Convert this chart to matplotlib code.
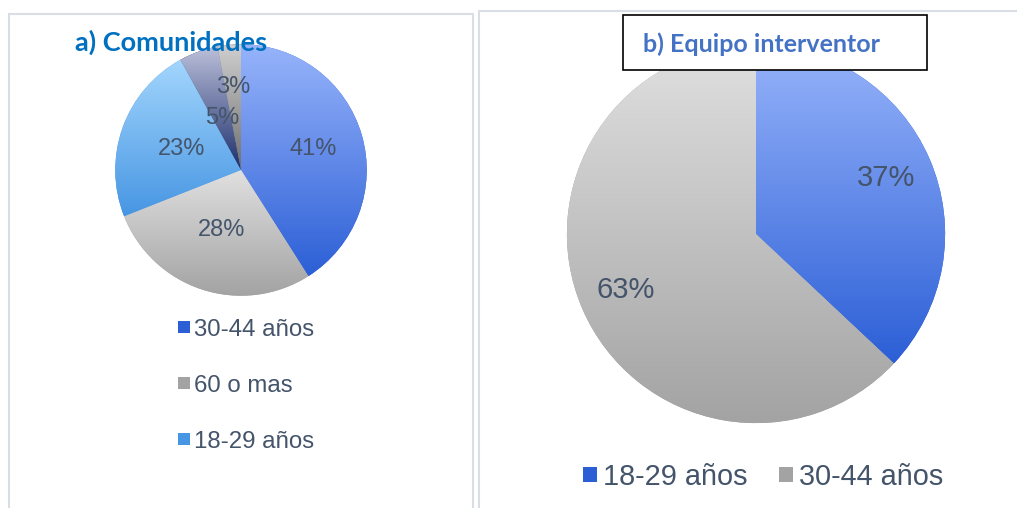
import numpy as np
import matplotlib.pyplot as plt
from matplotlib.patches import Rectangle, Patch
from matplotlib.colors import LinearSegmentedColormap

# a) Comunidades
com_labels = ['30-44 años', '60 o mas', '18-29 años', '45-59 años', 'Sin dato']
com_values = [41, 28, 23, 5, 3]
com_legend = ['30-44 años', '60 o mas', '18-29 años']

# b) Equipo interventor
eq_labels = ['18-29 años', '30-44 años']
eq_values = [37, 63]

blue = ('#97b4fb', '#2c5fd6')
gray = ('#e0e0e0', '#a3a3a3')
lblue = ('#a3d6fd', '#4796e3')
navy = ('#bcc0da', '#1c2f6c')
dgray = ('#cfcfcf', '#6e6e6e')
text_col = '#44546a'

plt.rcParams['font.family'] = ['Liberation Sans', 'DejaVu Sans']

fig = plt.figure(figsize=(10.17, 5.08), dpi=100)


def gradient_fill(ax, wedge, top, bottom):
    bb = wedge.get_path().get_extents()
    cmap = LinearSegmentedColormap.from_list('g', [top, bottom])
    grad = np.linspace(0, 1, 256).reshape(-1, 1)
    im = ax.imshow(grad, extent=[bb.x0, bb.x1, bb.y0, bb.y1], origin='upper',
                   cmap=cmap, aspect='auto', zorder=wedge.get_zorder() + 0.1)
    im.set_clip_path(wedge)


def draw_pie(ax, values, grads, dists, fs):
    wedges, _ = ax.pie(values, startangle=90, counterclock=False,
                       colors=[g[1] for g in grads], radius=1)
    for w, g in zip(wedges, grads):
        gradient_fill(ax, w, g[0], g[1])
    total = sum(values)
    cum = 0
    for v, d in zip(values, dists):
        mid = (cum + v / 2) / total * 2 * np.pi
        cum += v
        ax.text(d * np.sin(mid), d * np.cos(mid), f'{v}%', ha='center', va='center',
                fontsize=fs, color=text_col, zorder=5)
    ax.set_xlim(-1.01, 1.01)
    ax.set_ylim(-1.01, 1.01)
    ax.set_aspect('equal')
    ax.axis('off')
    return wedges


# panel borders
fig.patches.append(Rectangle((9 / 1017, -0.02), 464 / 1017, (508 - 14) / 508 + 0.02,
                             transform=fig.transFigure, fill=False,
                             edgecolor='#d9dee5', lw=1.5))
fig.patches.append(Rectangle((479 / 1017, -0.02), 560 / 1017, (508 - 11) / 508 + 0.02,
                             transform=fig.transFigure, fill=False,
                             edgecolor='#d9dee5', lw=1.5))

# left pie
ax1 = fig.add_axes([114 / 1017, 0.4154, 254 / 1017, 0.5])
com_grads = [blue, gray, lblue, navy, dgray]
draw_pie(ax1, com_values, com_grads, [0.6, 0.5, 0.5, 0.44, 0.66], 17)
fig.text(75 / 1017, 1 - 42 / 508, 'a) Comunidades', fontsize=19.5, fontweight='bold',
         color='#0070c0', family=['Lato', 'DejaVu Sans'], va='center', ha='left')
handles1 = [Patch(facecolor=com_grads[i][1], edgecolor='none') for i in range(3)]
fig.legend(handles1, com_legend, loc='upper left', bbox_to_anchor=(156 / 1017, 1 - 297 / 508),
           frameon=False, fontsize=17.3, labelcolor=text_col, handlelength=0.5,
           handleheight=0.4, handletextpad=0.2, labelspacing=1.42)

# right pie
ax2 = fig.add_axes([565 / 1017, 83 / 508, 382 / 1017, 382 / 508])
eq_grads = [blue, gray]
draw_pie(ax2, eq_values, eq_grads, [0.75, 0.75], 21)
fig.patches.append(Rectangle((623 / 1017, 1 - 70 / 508), 304 / 1017, 55 / 508,
                             transform=fig.transFigure, facecolor='white',
                             edgecolor='black', lw=1.2, zorder=5))
fig.text(643 / 1017, 1 - 44 / 508, 'b) Equipo interventor', fontsize=18, fontweight='bold',
         color='#4472c4', family=['Lato', 'DejaVu Sans'], va='center', ha='left', zorder=6)
handles2 = [Patch(facecolor=g[1], edgecolor='none') for g in eq_grads]
fig.legend(handles2, eq_labels, loc='center', bbox_to_anchor=(763 / 1017, 1 - 477 / 508),
           ncol=2, frameon=False, fontsize=20.8, labelcolor=text_col, handlelength=0.5,
           handleheight=0.4, handletextpad=0.2, columnspacing=1.1)

fig.savefig('out.png', dpi=100)
